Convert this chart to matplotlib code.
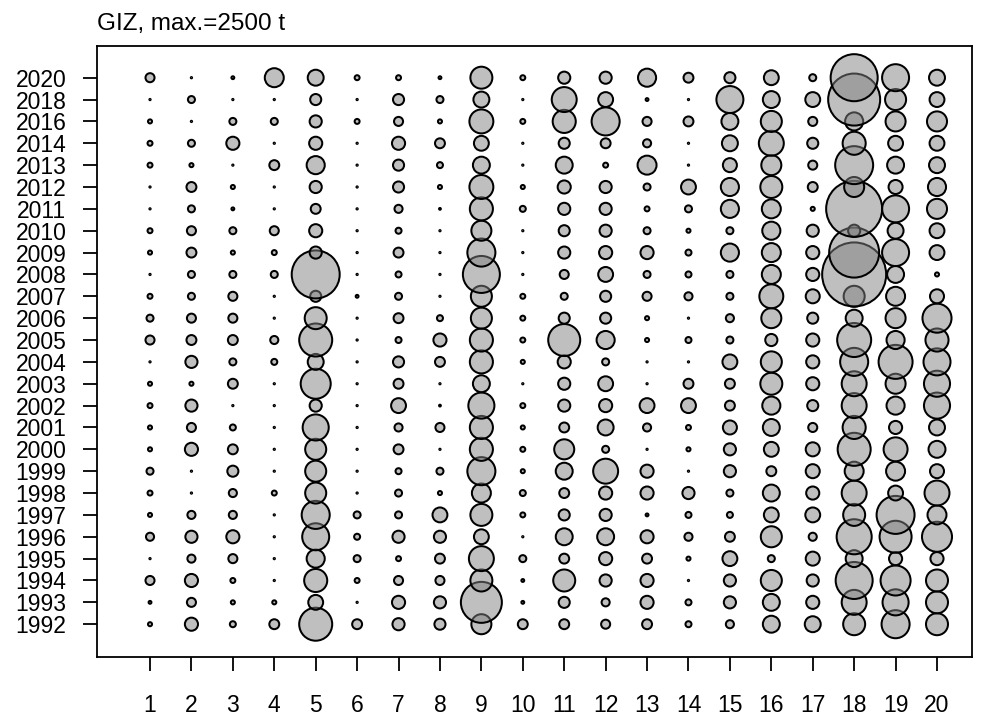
import numpy as np
import matplotlib
matplotlib.use("Agg")
import matplotlib.pyplot as plt

# Jahre (y-Achse, von oben nach unten wie im Original)
jahre = [2020, 2018, 2016, 2014, 2013, 2012, 2011, 2010, 2009, 2008, 2007,
         2006, 2005, 2004, 2003, 2002, 2001, 2000, 1999, 1998, 1997, 1996,
         1995, 1994, 1993, 1992]

# Gebiete (x-Achse)
gebiete = list(range(1, 21))

# Fangmengen in t, je Gebiet eine Liste in der Reihenfolge von `jahre`
fang = [
    [50, 1, 10, 15, 15, 1, 1, 15, 10, 1, 15, 30, 50, 1, 10, 15, 10, 10, 30, 15, 10, 40, 1, 50, 5, 10],
    [1, 30, 1, 30, 10, 60, 30, 50, 60, 30, 30, 50, 60, 90, 10, 90, 50, 105, 1, 1, 40, 90, 40, 105, 50, 105],
    [5, 1, 30, 105, 1, 10, 5, 30, 10, 30, 50, 50, 60, 30, 60, 1, 22, 60, 75, 40, 40, 105, 50, 15, 10, 22],
    [220, 1, 30, 1, 60, 1, 1, 50, 15, 30, 1, 1, 40, 22, 1, 1, 1, 1, 1, 15, 1, 1, 1, 1, 10, 60],
    [155, 75, 90, 105, 200, 90, 60, 105, 90, 1405, 75, 295, 665, 155, 550, 90, 415, 270, 270, 270, 480, 445, 200, 325, 135, 665],
    [15, 1, 15, 1, 1, 1, 1, 1, 1, 1, 5, 1, 1, 1, 1, 1, 1, 1, 1, 1, 30, 22, 30, 15, 1, 60],
    [15, 75, 50, 105, 75, 75, 40, 22, 60, 22, 30, 60, 22, 75, 60, 135, 40, 60, 22, 30, 30, 90, 15, 50, 105, 90],
    [5, 30, 10, 60, 22, 10, 2, 1, 1, 1, 1, 22, 105, 60, 1, 2, 50, 1, 30, 10, 135, 90, 60, 50, 90, 75],
    [295, 155, 350, 135, 175, 350, 325, 245, 480, 835, 270, 270, 325, 325, 175, 415, 325, 325, 480, 220, 295, 135, 380, 295, 1025, 245],
    [15, 1, 15, 1, 1, 10, 22, 1, 1, 1, 15, 15, 15, 10, 1, 15, 10, 15, 10, 22, 15, 1, 30, 5, 5, 60],
    [90, 380, 325, 75, 175, 105, 90, 75, 90, 50, 30, 75, 625, 105, 90, 90, 60, 245, 175, 60, 75, 175, 60, 295, 75, 60],
    [90, 135, 480, 60, 15, 90, 90, 90, 105, 135, 75, 75, 200, 30, 135, 105, 155, 30, 380, 105, 90, 175, 105, 90, 40, 50],
    [200, 5, 50, 40, 220, 30, 15, 30, 105, 30, 50, 10, 10, 1, 1, 135, 40, 1, 105, 105, 5, 105, 60, 105, 105, 60],
    [60, 1, 60, 1, 1, 135, 30, 10, 22, 22, 40, 1, 22, 1, 60, 135, 15, 10, 1, 90, 22, 40, 10, 1, 22, 22],
    [75, 445, 175, 155, 120, 200, 200, 30, 200, 30, 30, 40, 30, 135, 60, 60, 120, 90, 90, 30, 22, 60, 135, 90, 90, 40],
    [135, 175, 270, 380, 245, 295, 220, 200, 220, 220, 350, 245, 90, 270, 295, 200, 175, 135, 60, 175, 135, 270, 30, 270, 175, 175],
    [30, 135, 50, 75, 50, 60, 10, 90, 105, 105, 120, 75, 105, 105, 105, 75, 50, 120, 120, 105, 135, 40, 120, 90, 105, 155],
    [1350, 1650, 200, 325, 880, 245, 1915, 90, 1525, 2500, 270, 175, 705, 480, 380, 380, 325, 665, 220, 380, 295, 750, 175, 835, 380, 295],
    [445, 270, 245, 135, 175, 120, 445, 155, 445, 175, 220, 245, 200, 705, 245, 200, 105, 350, 220, 135, 880, 625, 105, 550, 415, 480],
    [155, 135, 245, 135, 155, 200, 245, 135, 135, 10, 120, 515, 325, 445, 415, 415, 155, 175, 120, 380, 220, 550, 105, 295, 295, 295],
]

MAXWERT = 2500
MAXDURCHMESSER_PX = 64  # Kreis fuer MAXWERT

plt.rcParams["font.family"] = ["Liberation Sans", "DejaVu Sans"]

fig = plt.figure(figsize=(9.82, 7.18), dpi=100)
ax = fig.add_axes([97 / 982, 1 - 657 / 718, (972 - 97) / 982, (657 - 46) / 718])

werte = np.array(fang, dtype=float)          # (gebiet, jahr)
n_j = len(jahre)
ypos = n_j - np.arange(n_j)                   # 2020 oben, 1992 = 1
px2pt = 72 / fig.dpi

# Zeilenweise von 1992 aufwaerts zeichnen
for j in range(n_j - 1, -1, -1):
    d_px = MAXDURCHMESSER_PX * np.sqrt(werte[:, j] / MAXWERT)
    s = (d_px * px2pt) ** 2
    ax.scatter(gebiete, np.full(len(gebiete), ypos[j]), s=s,
               facecolor=(0.5, 0.5, 0.5, 0.5), edgecolor="black",
               linewidth=1.45, zorder=3)

ax.set_xlim(-0.28, 20.845)
ax.set_ylim(-0.5, 27.45)
ax.set_xticks(gebiete)
ax.set_xticklabels([str(g) for g in gebiete])
ax.set_yticks(ypos)
ax.set_yticklabels([str(j) for j in jahre])

for sp in ax.spines.values():
    sp.set_linewidth(1.3)
ax.tick_params(axis="both", length=10, width=1.3, labelsize=16.5)
ax.tick_params(axis="y", pad=12)
ax.tick_params(axis="x", pad=17)

fig.text(97 / 982, 1 - 24 / 718, "GIZ, max.=2500 t", fontsize=17.5,
         ha="left", va="center")

fig.savefig("out.png", dpi=100)
